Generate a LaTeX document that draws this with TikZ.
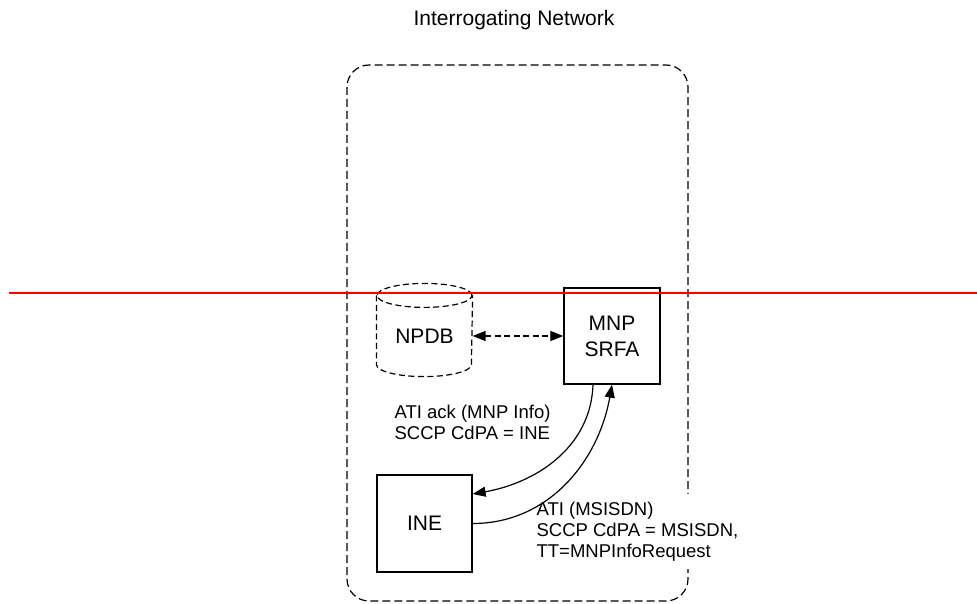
\documentclass[tikz,border=0pt]{standalone}
\usepackage{fontspec}
\setmainfont{Liberation Sans}
\usetikzlibrary{arrows.meta,positioning}

\begin{document}
\begin{tikzpicture}[x=1pt,y=-1pt,>={Triangle[length=13pt,width=10pt]},line width=1.2pt,
                    node distance=187.5pt]
  \tikzstyle{every node}=[font=\fontsize{21}{26}\selectfont]
  \tikzstyle{element}=[draw,line width=1.3pt,minimum width=96pt,minimum height=96pt,align=center,inner sep=0pt]
  \tikzstyle{msg}=[font=\fontsize{18.5}{21}\selectfont,align=left,anchor=base west,inner sep=0pt]
  \tikzstyle{netframe}=[dash pattern=on 8pt off 4pt,rounded corners=22pt]
  \tikzstyle{dbline}=[dash pattern=on 6pt off 3.5pt]

  \useasboundingbox (0,0) rectangle (977,604);

  \node[anchor=base] (title) at (514,26) {Interrogating Network};
  \draw[netframe] (347,65) rectangle (688,601);

  % database and network elements
  \node[minimum width=95pt,minimum height=80pt,inner sep=0pt] (npdb) at (424.5,336) {NPDB};
  \draw[dbline] (npdb.north west) -- ([yshift=12pt]npdb.south west)
        arc[start angle=180,end angle=360,x radius=47.5pt,y radius=12pt] -- (npdb.north east);
  \draw[dbline] (npdb.north) ellipse [x radius=47.5pt,y radius=12pt];
  \node[element] (srfa) [right of=npdb] {MNP\\SRFA};
  \node[element,minimum width=95pt,minimum height=97pt] (ine) [below of=npdb] {INE};

  \draw[<->,dbline] (npdb.east) -- (npdb.east -| srfa.west);

  % messages
  \node[msg] (ack) at (394,439.5) {ATI ack (MNP Info)\\SCCP CdPA = INE};
  \node[msg,fill=white,inner xsep=3pt,inner ysep=8pt] (req) at (533,557) {ATI (MSISDN)\\SCCP CdPA = MSISDN,\\TT=MNPInfoRequest};

  \path[->] ([xshift=-19pt]srfa.south) edge [out=-92,in=10] ([yshift=29.5pt]ine.east)
            (ine.east) edge [out=0,in=-100] (srfa.south);

  \coordinate (cutl) at (9,293);
  \coordinate (cutr) at (977,293);
  \draw[red,line width=2pt] (cutl) -- (cutr);
\end{tikzpicture}
\end{document}
